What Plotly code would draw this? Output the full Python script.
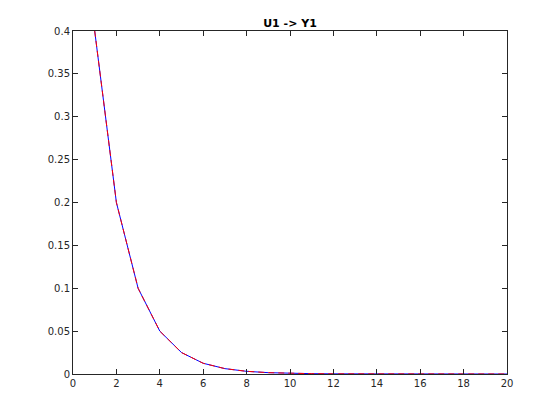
import plotly.graph_objects as go

x_vals = list(range(1, 21))
y_vals = [0.4, 0.2, 0.1, 0.05, 0.025, 0.0125, 0.00625, 0.003125, 0.0015625, 0.00078125,
          0.000390625, 0.0001953125, 0.00009765625, 0.000048828125, 0.0000244140625,
          0.00001220703125, 0.000006103515625, 0.0000030517578125, 0.00000152587890625,
          0.000000762939453125]

x_ticks = list(range(0, 21, 2))
y_ticks = [0, 0.05, 0.1, 0.15, 0.2, 0.25, 0.3, 0.35, 0.4]
y_tick_labels = ["0", "0.05", "0.1", "0.15", "0.2", "0.25", "0.3", "0.35", "0.4"]

fig = go.Figure()
fig.add_trace(go.Scatter(x=x_vals, y=y_vals, mode="lines",
                         line=dict(color="#0000ff", width=1), showlegend=False))
fig.add_trace(go.Scatter(x=x_vals, y=y_vals, mode="lines",
                         line=dict(color="#ff0000", width=1, dash="6px,4px"), showlegend=False))

axis_common = dict(showgrid=False, zeroline=False, showline=True, linecolor="#262626",
                   linewidth=1, mirror="ticks", ticks="inside", ticklen=5,
                   tickcolor="#262626", tickfont=dict(family="DejaVu Sans", size=10, color="#262626"))

fig.update_layout(
    width=560, height=420,
    paper_bgcolor="white", plot_bgcolor="white",
    margin=dict(l=65, r=61, t=23, b=54),
    title=dict(text="<b>U1 -> Y1</b>", x=0.5, xref="paper", xanchor="center",
               y=1, yref="paper", yanchor="bottom", pad=dict(b=4),
               font=dict(family="DejaVu Sans", size=11, color="black")),
    xaxis=dict(range=[0, 20], tickvals=x_ticks, ticktext=[str(v) for v in x_ticks], **axis_common),
    yaxis=dict(range=[0, 0.4], tickvals=y_ticks, ticktext=y_tick_labels, **axis_common),
)

fig.write_html("out.html")
